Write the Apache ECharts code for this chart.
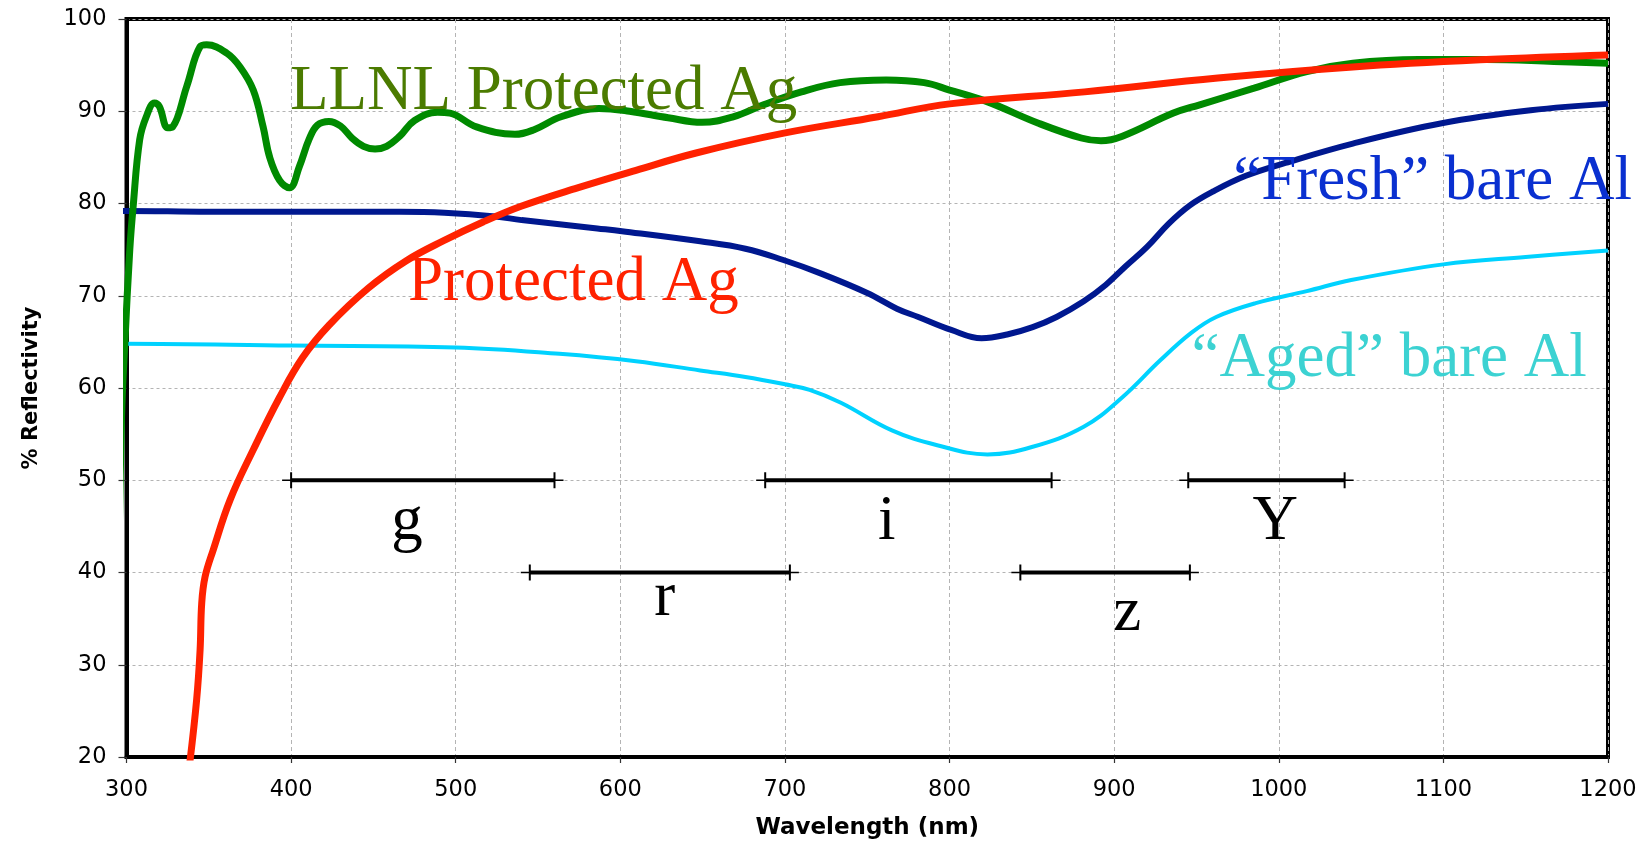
<!DOCTYPE html>
<html>
<head>
<meta charset="utf-8">
<script src="https://cdn.jsdelivr.net/npm/echarts@6/dist/echarts.min.js"></script>
<style>
  html, body { margin: 0; padding: 0; background: #fff; }
  #chart { width: 1650px; height: 846px; }
</style>
</head>
<body>
<div id="chart"></div>
<script>
// ---------- data (wavelength nm, % reflectivity) ----------
const llnlWl   = [295, 297, 299, 302, 304, 308, 312, 317, 320, 325, 328, 336.6, 344.7, 348.7, 360.9, 369, 377, 383, 387, 393, 399, 405, 411, 416, 423, 430, 437, 444, 451, 458, 466, 475, 489, 496.5, 512.6, 536, 547.6, 564, 587, 605.6, 629, 649.6, 668.5, 687, 710, 733.5, 761.5, 784.6, 800, 822, 854, 880, 892, 905, 936, 952, 985, 1017, 1045, 1085, 1126, 1167, 1200];
const llnlRefl = [37.3, 56.9, 64.9, 75, 79.6, 86.9, 89.4, 90.9, 90.5, 88.2, 88.3, 92.7, 97, 97.2, 96.3, 94.8, 92.3, 88.3, 85, 82.5, 81.7, 84, 87.0, 88.5, 88.9, 88.4, 87.1, 86.2, 85.9, 86.2, 87.3, 89, 89.9, 89.8, 88.3, 87.5, 88, 89.4, 90.3, 90, 89.3, 88.8, 89.4, 90.7, 92.1, 93.1, 93.4, 93.1, 92.3, 91.1, 88.7, 87.1, 86.8, 87.3, 89.8, 90.7, 92.5, 94.3, 95.2, 95.6, 95.6, 95.4, 95.2];

const agWl   = [338.2, 342.6, 344.7, 345.7, 347.7, 352.6, 363, 377, 393, 407, 423, 446.7, 470, 493, 516.6, 539.7, 574, 609.5, 646.6, 698.6, 756.6, 800, 882, 963, 1045, 1126, 1200];
const agRefl = [19, 26.2, 31.6, 36.7, 39.5, 42.4, 47.9, 53.3, 59, 63.3, 66.8, 70.8, 73.8, 76, 78, 79.7, 81.7, 83.6, 85.5, 87.6, 89.4, 90.8, 92.1, 93.6, 94.8, 95.6, 96.1];

const freshWl   = [295, 300, 350, 400, 466, 493, 524, 540, 586, 601, 648.5, 676, 698.6, 722, 750, 768, 781, 801, 819.5, 835, 850.5, 865, 881.5, 895, 907, 920, 933, 946, 960, 980, 1004, 1045, 1099, 1153, 1200];
const freshRefl = [79.2, 79.2, 79.1, 79.1, 79.1, 79.0, 78.6, 78.2, 77.3, 77.0, 75.9, 75.1, 73.9, 72.4, 70.3, 68.6, 67.7, 66.3, 65.4, 65.8, 66.6, 67.7, 69.4, 71.2, 73.2, 75.3, 77.8, 79.8, 81.3, 83.0, 84.4, 86.5, 88.7, 90.1, 90.8];

const agedWl   = [295, 300, 400, 500, 563, 609.5, 648.5, 676, 700, 715, 734, 765, 792.5, 823, 850, 881.5, 905, 928, 947, 962, 986, 1017, 1044, 1100, 1150, 1200];
const agedRefl = [64.8, 64.8, 64.6, 64.4, 63.7, 62.9, 61.9, 61.2, 60.4, 59.8, 58.4, 55.4, 53.8, 52.8, 53.6, 55.8, 59, 63, 66, 67.7, 69.2, 70.5, 71.7, 73.4, 74.2, 74.9];

// filter bands: name, start nm, end nm, level
const bandNames = ['g', 'r', 'i', 'z', 'Y'];
const bandStart = [400, 545, 688, 843, 945];
const bandEnd   = [560, 703, 862, 946, 1040];
const bandLevel = [50, 40, 50, 40, 50];

// axis ticks
const xTicks = [300, 1200, 100];
const yTicks = [20, 100, 10];

// ---------- annotation placement (data coords) ----------
const bandLabelPos = [[470.4, 45.4], [627, 37.2], [761.8, 45.4], [908, 35.6], [997.9, 45.4]];
const curveLabels = [
  { text: 'LLNL Protected Ag', at: [399.3, 92.0], color: '#4b7b00' },
  { text: 'Protected Ag',      at: [471, 71.3],   color: '#ff2200' },
  { text: '\u201CFresh\u201D bare Al', at: [972.3, 82.3], color: '#0a30d0' },
  { text: '\u201CAged\u201D bare Al',  at: [947, 63.1], color: '#3cd2d2' }
];

const pairs = (xs, ys) => xs.map((x, i) => [x, ys[i]]);
const SERIF = '"Liberation Serif", "Times New Roman", serif';

const chart = echarts.init(document.getElementById('chart'), null, { renderer: 'canvas' });

const option = {
  backgroundColor: '#ffffff',
  animation: false,
  grid: {
    left: 126.5, right: 42, top: 19, bottom: 89,
    show: true, borderColor: '#000', borderWidth: 4,
    backgroundColor: 'transparent',
    containLabel: false, outerBoundsMode: 'none'
  },
  xAxis: {
    type: 'value', min: xTicks[0], max: xTicks[1], interval: xTicks[2],
    name: 'Wavelength (nm)', nameLocation: 'middle', nameGap: 60,
    nameTextStyle: { fontFamily: 'DejaVu Sans', fontWeight: 'bold', fontSize: 23, color: '#000' },
    axisLine: { show: true, onZero: false, lineStyle: { color: '#000', width: 4 } },
    axisTick: { show: true, length: 6, lineStyle: { color: '#333', width: 1.2 } },
    axisLabel: { fontFamily: 'DejaVu Sans', fontSize: 22.5, color: '#000', margin: 22, formatter: v => String(v) },
    splitLine: { show: true, lineStyle: { color: '#b4b4b4', width: 1, type: [4, 3] } }
  },
  yAxis: {
    type: 'value', min: yTicks[0], max: yTicks[1], interval: yTicks[2],
    name: '% Reflectivity', nameLocation: 'middle', nameGap: 84, nameRotate: 90,
    nameTextStyle: { fontFamily: 'DejaVu Sans', fontWeight: 'bold', fontSize: 21, color: '#000' },
    axisLine: { show: true, onZero: false, lineStyle: { color: '#000', width: 4 } },
    axisTick: { show: true, length: 8, lineStyle: { color: '#333', width: 1.2 } },
    axisLabel: { fontFamily: 'DejaVu Sans', fontSize: 22.5, color: '#000', margin: 20, formatter: v => String(v) },
    splitLine: { show: true, lineStyle: { color: '#b4b4b4', width: 1, type: [3, 3] } }
  },
  series: [
    {
      name: 'Aged bare Al', type: 'line', data: pairs(agedWl, agedRefl),
      showSymbol: false, smooth: 0.4, clip: false, z: 3,
      lineStyle: { color: '#00d2ff', width: 4 }
    },
    {
      name: 'Fresh bare Al', type: 'line', data: pairs(freshWl, freshRefl),
      showSymbol: false, smooth: 0.4, clip: false, z: 4,
      lineStyle: { color: '#00188f', width: 6 }
    },
    {
      name: 'LLNL Protected Ag', type: 'line', data: pairs(llnlWl, llnlRefl),
      showSymbol: false, smooth: 0.4, clip: false, z: 5,
      lineStyle: { color: '#008a00', width: 7 }
    },
    {
      name: 'Protected Ag', type: 'line', data: pairs(agWl, agRefl),
      showSymbol: false, smooth: 0.4, clip: true, z: 6,
      lineStyle: { color: '#ff2200', width: 7 }
    },
    {
      name: 'bands', type: 'custom', z: 7, clip: false,
      data: bandStart.map((s, i) => [s, bandEnd[i], bandLevel[i]]),
      encode: { x: [0, 1], y: 2 },
      renderItem: function (params, api) {
        const a = api.coord([api.value(0), api.value(2)]);
        const b = api.coord([api.value(1), api.value(2)]);
        const cap = 8, ext = 9;
        return {
          type: 'group',
          children: [
            { type: 'line', shape: { x1: a[0] - ext, y1: a[1], x2: b[0] + ext, y2: b[1] }, style: { stroke: '#000', lineWidth: 1.6 } },
            { type: 'line', shape: { x1: a[0], y1: a[1], x2: b[0], y2: b[1] }, style: { stroke: '#000', lineWidth: 4 } },
            { type: 'line', shape: { x1: a[0], y1: a[1] - cap, x2: a[0], y2: a[1] + cap }, style: { stroke: '#000', lineWidth: 2 } },
            { type: 'line', shape: { x1: b[0], y1: b[1] - cap, x2: b[0], y2: b[1] + cap }, style: { stroke: '#000', lineWidth: 2 } }
          ]
        };
      }
    },
    {
      name: 'band labels', type: 'custom', z: 8, clip: false,
      data: bandLabelPos.map(p => [p[0], p[1]]),
      encode: { x: 0, y: 1 },
      renderItem: function (params, api) {
        const p = api.coord([api.value(0), api.value(1)]);
        return {
          type: 'text', x: p[0], y: p[1],
          style: { text: bandNames[params.dataIndex], fill: '#000', font: '63px ' + SERIF, align: 'center', verticalAlign: 'middle' }
        };
      }
    },
    {
      name: 'curve labels', type: 'custom', z: 9, clip: false,
      data: curveLabels.map(c => [c.at[0], c.at[1]]),
      encode: { x: 0, y: 1 },
      renderItem: function (params, api) {
        const c = curveLabels[params.dataIndex];
        const p = api.coord([api.value(0), api.value(1)]);
        return {
          type: 'text', x: p[0], y: p[1],
          style: { text: c.text, fill: c.color, font: '63px ' + SERIF, align: 'left', verticalAlign: 'middle' }
        };
      }
    }
  ]
};

chart.setOption(option);
</script>
</body>
</html>
